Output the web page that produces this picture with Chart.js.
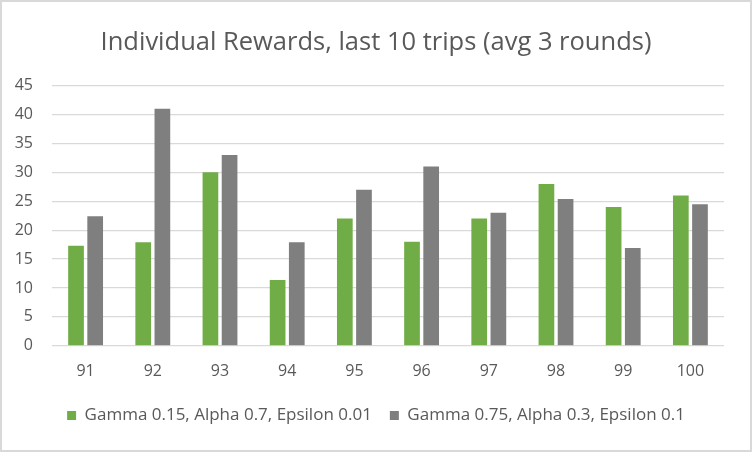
<!DOCTYPE html>
<html>
<head>
<meta charset="utf-8">
<script src="https://cdn.jsdelivr.net/npm/chart.js@4.4.0/dist/chart.umd.min.js"></script>
<style>
  html, body { margin: 0; padding: 0; background: #fff; }
  #wrap { width: 752px; height: 452px; position: relative; }
</style>
</head>
<body>
<div id="wrap"><canvas id="rewardsChart"></canvas></div>
<script>
// chart data
const trips = ['91', '92', '93', '94', '95', '96', '97', '98', '99', '100'];
const seriesNames = [
  'Gamma 0.15, Alpha 0.7, Epsilon 0.01',
  'Gamma 0.75, Alpha 0.3, Epsilon 0.1'
];
const rewardsA = [17.3, 17.9, 30, 11.4, 22, 18, 22, 28, 24, 26];
const rewardsB = [22.4, 41, 33, 17.9, 27, 31, 23, 25.4, 16.9, 24.5];
const yTicks = [0, 5, 10, 15, 20, 25, 30, 35, 40, 45];

const textColor = '#595959';
const gridColor = '#D9D9D9';
const fontFamily = "'Open Sans', 'Liberation Sans', sans-serif";

// light frame around the whole chart
const framePlugin = {
  id: 'frame',
  afterDraw(chart) {
    const c = chart.ctx;
    c.save();
    c.strokeStyle = gridColor;
    c.lineWidth = 2;
    c.strokeRect(1, 1, chart.width - 2, chart.height - 2);
    c.restore();
  }
};

const ctx = document.getElementById('rewardsChart').getContext('2d');
new Chart(ctx, {
  type: 'bar',
  data: {
    labels: trips,
    datasets: [
      { label: seriesNames[0], data: rewardsA, backgroundColor: '#70AD47' },
      { label: seriesNames[1], data: rewardsB, backgroundColor: '#7F7F7F' }
    ]
  },
  options: {
    responsive: true,
    maintainAspectRatio: false,
    animation: false,
    devicePixelRatio: 1,
    categoryPercentage: 0.57,
    barPercentage: 0.82,
    layout: { padding: { left: 0, right: 0, top: 0, bottom: 18 } },
    plugins: {
      title: {
        display: true,
        text: 'Individual Rewards, last 10 trips (avg 3 rounds)',
        color: textColor,
        font: { family: fontFamily, size: 25.5, weight: 'normal' },
        padding: { top: 27, bottom: 28 }
      },
      legend: {
        position: 'bottom',
        labels: {
          color: textColor,
          font: { family: fontFamily, size: 17 },
          boxWidth: 9,
          boxHeight: 9,
          padding: 18
        }
      },
      tooltip: { enabled: false }
    },
    scales: {
      x: {
        grid: { display: false },
        border: { display: false },
        ticks: {
          color: textColor,
          font: { family: fontFamily, size: 16 },
          padding: 8
        }
      },
      y: {
        min: 0,
        max: 45,
        afterBuildTicks(scale) {
          scale.ticks = yTicks.map(v => ({ value: v }));
        },
        afterFit(scale) {
          scale.width = 52;
        },
        grid: { color: gridColor, lineWidth: 1.3, drawTicks: false },
        border: { display: false },
        ticks: {
          color: textColor,
          font: { family: fontFamily, size: 16 },
          padding: 19
        }
      },
      // empty right-hand spacer so the plot ends short of the frame
      spacer: {
        type: 'linear',
        position: 'right',
        grid: { display: false },
        border: { display: false },
        ticks: { display: false },
        afterFit(scale) {
          scale.width = 28;
        }
      }
    }
  },
  plugins: [framePlugin]
});
</script>
</body>
</html>
